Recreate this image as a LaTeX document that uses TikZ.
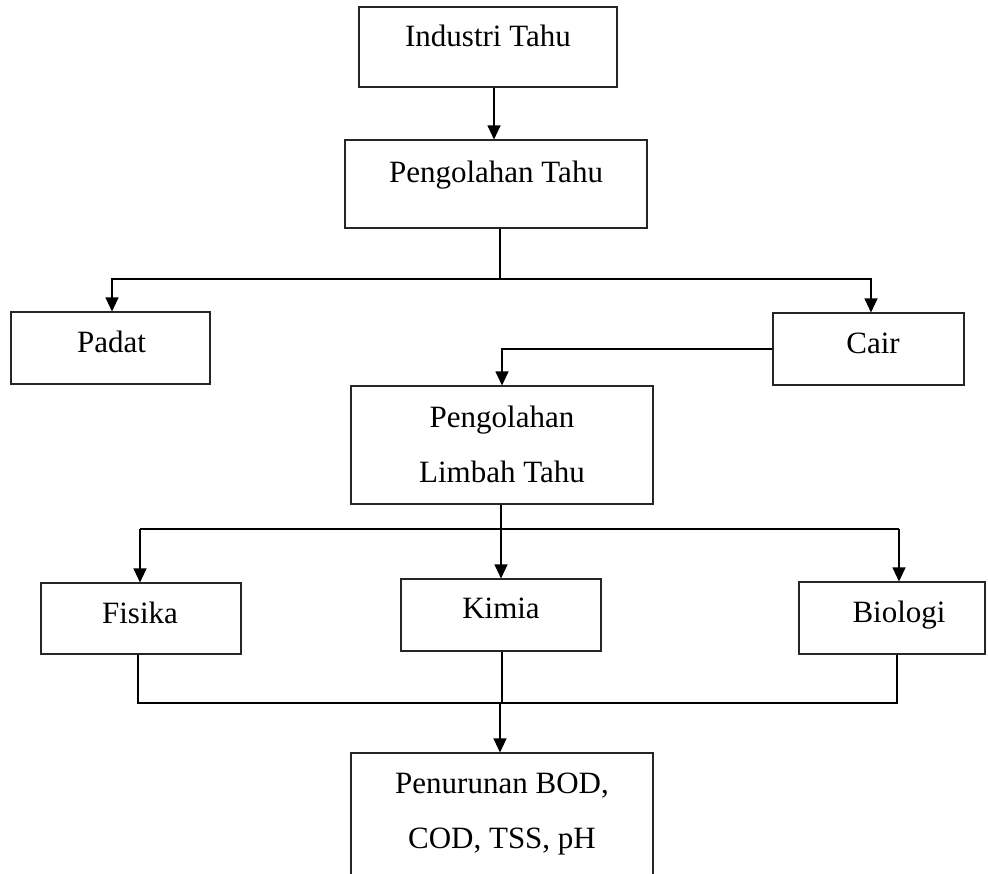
\documentclass[tikz,border=0pt]{standalone}
\usepackage{fontspec}
\setmainfont{Liberation Serif}
\usetikzlibrary{arrows.meta}
\tikzset{
  bx/.style={draw=black!85, line width=1.1pt, rectangle, inner sep=0pt},
  txt/.style={anchor=base, inner sep=0pt, font=\fontsize{31}{37}\selectfont},
  ln/.style={line width=1.1pt, black},
  arr/.style={ln, -{Triangle[length=14pt,width=13pt]}}
}
\begin{document}
\begin{tikzpicture}[x=1pt,y=-1pt]
\clip (0,0) rectangle (988,873);
\fill[white] (0,0) rectangle (988,873);
% boxes
\node[bx, minimum width=258pt, minimum height=80pt] (ind) at (488,47) {};
\node[bx, minimum width=302pt, minimum height=88pt] (peng) at (496,184) {};
\node[bx, minimum width=199pt, minimum height=72pt] (padat) at (110.5,348) {};
\node[bx, minimum width=191pt, minimum height=72pt] (cair) at (868.5,349) {};
\node[bx, minimum width=302pt, minimum height=118pt] (limbah) at (502,445) {};
\node[bx, minimum width=200pt, minimum height=71pt] (fisika) at (141,618.5) {};
\node[bx, minimum width=200pt, minimum height=72pt] (kimia) at (501,615) {};
\node[bx, minimum width=186pt, minimum height=72pt] (biologi) at (892,618) {};
\node[bx, minimum width=302pt, minimum height=134pt] (hasil) at (502,820) {};
% texts
\node[txt] (tind) at (488,46) {Industri Tahu};
\node[txt] (tpeng) at (496,182) {Pengolahan Tahu};
\node[txt] (tpadat) at (111.5,352) {Padat};
\node[txt] (tcair) at (873,353) {Cair};
\node[txt] (tlimbah1) at (502,427) {Pengolahan};
\node[txt] (tlimbah2) at (502,482) {Limbah Tahu};
\node[txt] (tfisika) at (140,623) {Fisika};
\node[txt] (tkimia) at (501,618) {Kimia};
\node[txt] (tbiologi) at (899,622) {Biologi};
\node[txt] (thasil1) at (502,793) {Penurunan BOD,};
\node[txt] (thasil2) at (502,848) {COD, TSS, pH};
% junction coordinates
\coordinate (j1) at (500,279);
\coordinate (j2) at (501,529);
\coordinate (j3) at (502,703);
\coordinate (fa) at (140,529);
\coordinate (ba) at (899,529);
\coordinate (fb) at (138,703);
\coordinate (bb) at (897,703);
% connectors
\draw[arr] (ind.south -| 494,0) -- (peng.north -| 494,0);
\draw[ln] (peng.south -| j1) -- (j1);
\draw[arr] (j1) -| (padat.north -| 112,0);
\draw[arr] (j1) -| (cair.north -| 871,0);
\draw[arr] (cair.west) -| (limbah.north);
\draw[ln] (limbah.south -| j2) -- (j2);
\draw[ln] (fa) -- (ba);
\draw[arr] (fa) -- (fisika.north -| fa);
\draw[arr] (j2) -- (kimia.north -| j2);
\draw[arr] (ba) -- (biologi.north -| ba);
\draw[ln] (fisika.south -| fb) -- (fb) -- (bb) -- (biologi.south -| bb);
\draw[ln] (kimia.south -| j3) -- (j3);
\draw[arr] (500,703) -- (hasil.north -| 500,0);
\end{tikzpicture}
\end{document}
